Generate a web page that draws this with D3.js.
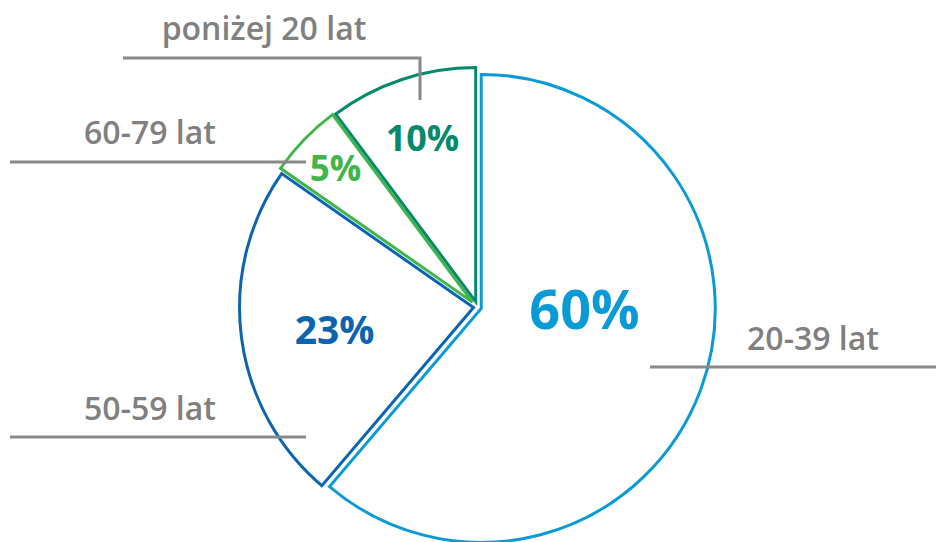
<!DOCTYPE html>
<html><head><meta charset="utf-8">
<script src="https://cdn.jsdelivr.net/npm/d3@7"></script>
<style>html,body{margin:0;padding:0;background:#fff;}svg{display:block;}</style>
</head><body>
<svg id="chart" width="936" height="542"></svg>
<script>
const categories = ["20-39 lat", "50-59 lat", "60-79 lat", "poniżej 20 lat"];
const values = [60, 23, 5, 10];
const colors = ["#0a9bd7", "#0b64b0", "#3fb54a", "#07896b"];

const svg = d3.select("#chart");
const cx = 477.5, cy = 307, R = 234, gap = 1.8;
const font = "'Open Sans', sans-serif";
const grey = "#808080";

const pie = d3.pie().sort(null).value(d => d.v).startAngle(0).endAngle(2 * Math.PI);
const data = categories.map((c, i) => ({c, v: values[i], col: colors[i]}));
const arcs = pie(data);
const arc = d3.arc().innerRadius(0).outerRadius(R);

function shift(d) {
  const half = (d.endAngle - d.startAngle) / 2;
  const m = d.startAngle + half;
  const dist = Math.min(7, Math.max(4, gap / Math.sin(Math.min(half, Math.PI / 2))));
  return [Math.sin(m) * dist, -Math.cos(m) * dist];
}

const g = svg.append("g").attr("transform", `translate(${cx},${cy})`);
g.selectAll("path.slice").data(arcs).enter().append("path")
  .attr("class", "slice")
  .attr("d", arc)
  .attr("transform", d => `translate(${shift(d)})`)
  .attr("fill", "#fff")
  .attr("stroke", d => d.data.col)
  .attr("stroke-width", 3)
  .attr("stroke-linejoin", "miter");

// percentage labels (offsets from centre)
const pctPos = {
  "20-39 lat": [107, 3, 54],
  "50-59 lat": [-143, 23, 39],
  "60-79 lat": [-142, -139, 35],
  "poniżej 20 lat": [-55, -169, 36]
};
g.selectAll("text.pct").data(arcs).enter().append("text")
  .attr("class", "pct")
  .attr("x", d => pctPos[d.data.c][0])
  .attr("y", d => pctPos[d.data.c][1])
  .attr("dy", "0.36em")
  .attr("text-anchor", "middle")
  .attr("font-family", font)
  .attr("font-weight", 700)
  .attr("font-size", d => pctPos[d.data.c][2])
  .attr("fill", d => d.data.col)
  .text(d => Math.round(d.data.v) + "%");

// leader lines + category labels
const leaders = [
  {c: "poniżej 20 lat", pts: [[123, 58], [420, 58], [420, 100]], tx: 264, ty: 40},
  {c: "60-79 lat", pts: [[10, 162], [306, 162]], tx: 150, ty: 144},
  {c: "50-59 lat", pts: [[10, 437], [306, 437]], tx: 150, ty: 420},
  {c: "20-39 lat", pts: [[650, 367], [936, 367]], tx: 813, ty: 350}
];
const line = d3.line();
svg.selectAll("path.lead").data(leaders).enter().append("path")
  .attr("class", "lead")
  .attr("d", d => line(d.pts))
  .attr("fill", "none")
  .attr("stroke", "#888")
  .attr("stroke-width", 3);
svg.selectAll("text.cat").data(leaders).enter().append("text")
  .attr("class", "cat")
  .attr("x", d => d.tx)
  .attr("y", d => d.ty)
  .attr("text-anchor", "middle")
  .attr("font-family", font)
  .attr("font-weight", 600)
  .attr("font-size", 32)
  .attr("fill", grey)
  .text(d => d.c);
</script>
</body></html>
